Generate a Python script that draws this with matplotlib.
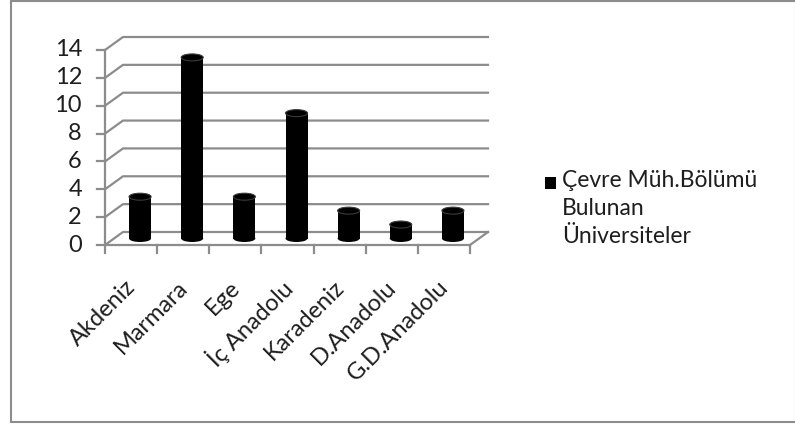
import matplotlib.pyplot as plt
from matplotlib.patches import Rectangle, Ellipse

plt.rcParams['font.family'] = ['Lato', 'DejaVu Sans']

# bölgelere göre çevre mühendisliği bölümü bulunan üniversite sayıları
bolgeler = ['Akdeniz', 'Marmara', 'Ege', 'İç Anadolu', 'Karadeniz', 'D.Anadolu', 'G.D.Anadolu']
sayilar = [3, 13, 3, 9, 2, 1, 2]
seri_adi = 'Çevre Müh.Bölümü\nBulunan\nÜniversiteler'
y_ticks = list(range(0, 15, 2))

W, H = 795, 428
fig = plt.figure(figsize=(W / 100, H / 100), dpi=100)

# ön düzlem: x 105..470 px, y 245..50 px
left, right, bottom, top = 105, 470, 245, 50
ax = fig.add_axes([left / W, 1 - bottom / H, (right - left) / W, (bottom - top) / H])
n = len(bolgeler)
ax.set_xlim(-0.5, n - 0.5)
ax.set_ylim(0, 14)
ax.axis('off')

px_x = (n) / (right - left)   # veri birimi / piksel
px_y = 14 / (bottom - top)
dx, dy = 18 * px_x, 13 * px_y  # derinlik kayması

grid_c = '#8c8c8c'
lw = 1.6
txt_c = '#1e1e1e'

# arka duvar ve yan duvar ızgara çizgileri
for v in y_ticks:
    ax.plot([-0.5, -0.5 + dx, n - 0.5 + dx], [v, v + dy, v + dy],
            color=grid_c, lw=lw, clip_on=False, zorder=1)
    ax.plot([-0.5 - 8 * px_x, -0.5], [v, v], color=grid_c, lw=lw, clip_on=False, zorder=1)
    ax.text(-0.5 - 23 * px_x, v, str(v), ha='right', va='center', fontsize=17,
            color=txt_c)

# sol eksen, taban ön kenarı ve sağ kenar
ax.plot([-0.5, -0.5], [0, 14], color=grid_c, lw=lw, clip_on=False, zorder=1)
ax.plot([-0.5, n - 0.5], [0, 0], color=grid_c, lw=lw, clip_on=False, zorder=1)
ax.plot([n - 0.5, n - 0.5 + dx], [0, dy], color=grid_c, lw=lw, clip_on=False, zorder=1)
for i in range(n + 1):
    ax.plot([i - 0.5, i - 0.5], [0, -8 * px_y], color=grid_c, lw=lw, clip_on=False, zorder=1)

# silindirler
bw = 22 * px_x
eh = 7 * px_y
base = dy / 2
for i, v in enumerate(sayilar):
    cx = i + dx / 2
    ax.add_patch(Rectangle((cx - bw / 2, base), bw, v, facecolor='black',
                           edgecolor='none', zorder=3, clip_on=False))
    ax.add_patch(Ellipse((cx, base), bw, eh, facecolor='black',
                         edgecolor='none', zorder=3, clip_on=False))
    ax.add_patch(Ellipse((cx, base + v), bw, eh, facecolor='black',
                         edgecolor='#3a3a3a', lw=0.8, zorder=4, clip_on=False))

# kategori etiketleri
for i, b in enumerate(bolgeler):
    ax.text(i + 1 * px_x, -39 * px_y, b, rotation=45, rotation_mode='anchor',
            ha='right', va='center', fontsize=17, color=txt_c)

# lejant
fig.patches.append(Rectangle((545 / W, 1 - 189 / H), 11 / W, 12 / H,
                             transform=fig.transFigure, facecolor='black',
                             edgecolor='none'))
fig.text(562 / W, 1 - 170 / H, seri_adi, ha='left', va='top', fontsize=16.5,
         color=txt_c, linespacing=1.42)

# dış çerçeve
fig.patches.append(Rectangle((11 / W, 1 - 422 / H), (W - 10) / W, 421 / H,
                             transform=fig.transFigure, facecolor='none',
                             edgecolor='#8c8c8c', lw=1.5))

fig.savefig('out.png', dpi=100)
